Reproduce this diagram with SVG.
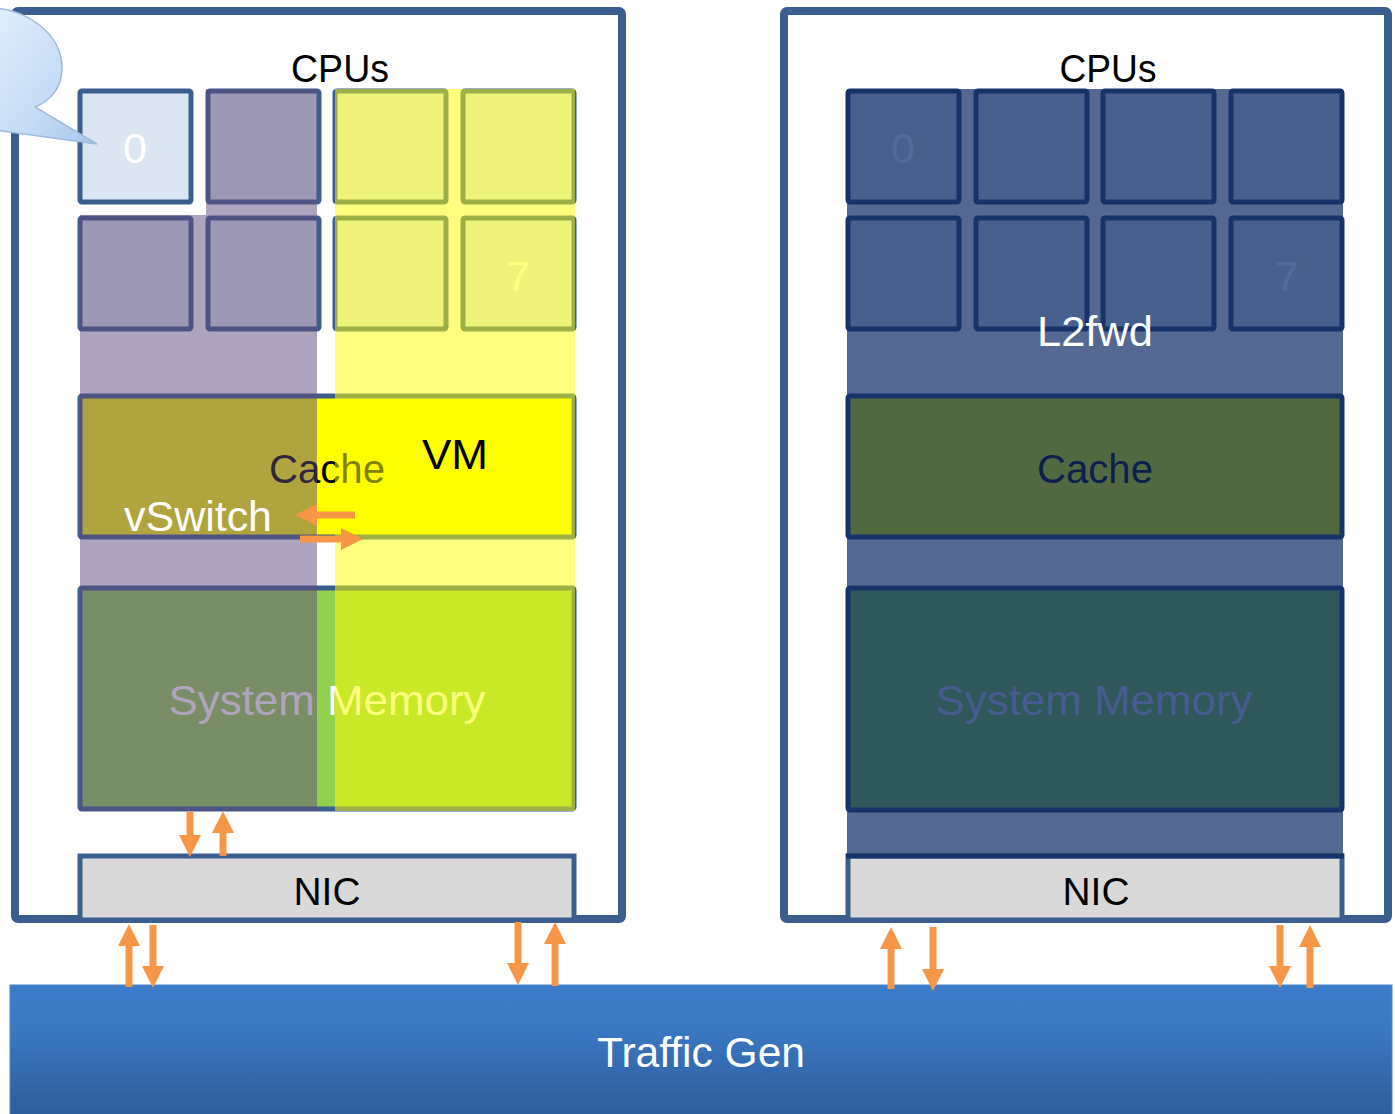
<svg xmlns="http://www.w3.org/2000/svg" width="1395" height="1114" viewBox="0 0 1395 1114">
<style>
text{font-family:"Liberation Sans",Arial,sans-serif;font-size:43px;text-anchor:middle}
.cpus{font-size:38px}
.cache{font-size:40px}
.nic{font-size:39px}
.box{fill:#ffffff;stroke:#3a5f8e;stroke-width:8}
.cpuL{fill:#dce6f2;stroke:#3a5f8e;stroke-width:5}
.cpuR{fill:#48608e;stroke:#16336a;stroke-width:5}
.arrow{stroke:#f79646;stroke-width:7;fill:none}
</style>
<defs>
<marker id="ah" viewBox="0 0 22 22" refX="0" refY="11" markerWidth="22" markerHeight="22" markerUnits="userSpaceOnUse" orient="auto">
<path d="M0,0 L22,11 L0,22 Z" fill="#f79646"/>
</marker>
<linearGradient id="tg" x1="0" y1="0" x2="0" y2="1">
<stop offset="0" stop-color="#3b7bc8"/>
<stop offset="0.3" stop-color="#3b79c4"/>
<stop offset="1" stop-color="#2d5b98"/>
</linearGradient>
<linearGradient id="bub" x1="0" y1="0" x2="1" y2="1">
<stop offset="0" stop-color="#e2eefc"/>
<stop offset="0.6" stop-color="#c5dbf6"/>
<stop offset="1" stop-color="#a6c4ec"/>
</linearGradient>
</defs>

<g id="server-left">
<rect class="box" x="15" y="11" width="607" height="908" rx="3"/>
<text class="cpus" x="340" y="82" textLength="98" lengthAdjust="spacingAndGlyphs">CPUs</text>
<g id="cpus-left">
<rect class="cpuL" x="80" y="91" width="111" height="111" rx="2"/>
<rect class="cpuL" x="208" y="91" width="111" height="111" rx="2"/>
<rect class="cpuL" x="335" y="91" width="111" height="111" rx="2"/>
<rect class="cpuL" x="463" y="91" width="111" height="111" rx="2"/>
<rect class="cpuL" x="80" y="218" width="111" height="111" rx="2"/>
<rect class="cpuL" x="208" y="218" width="111" height="111" rx="2"/>
<rect class="cpuL" x="335" y="218" width="111" height="111" rx="2"/>
<rect class="cpuL" x="463" y="218" width="111" height="111" rx="2"/>
<text x="135" y="163" fill="#ffffff">0</text>
<text x="518" y="291" fill="#ffffff">7</text>
</g>
<g id="cache-left">
<rect x="80" y="396" width="494" height="141" fill="#ffff00" stroke="#3a5f8e" stroke-width="5" rx="2"/>
<text class="cache" x="327" y="483" fill="#000000" textLength="116" lengthAdjust="spacingAndGlyphs">Cache</text>
</g>
<g id="memory-left">
<rect x="80" y="588" width="494" height="221" fill="#92d050" stroke="#3a5f8e" stroke-width="5" rx="2"/>
<text x="327" y="715" fill="#ffffff" textLength="317" lengthAdjust="spacingAndGlyphs">System Memory</text>
</g>
<path id="vswitch-overlay" d="M206,89 L317,89 L317,811 L80,811 L80,215 L206,215 Z" fill="#604a7b" fill-opacity="0.5"/>
<rect id="vm-overlay" x="335" y="89" width="240" height="722" fill="#ffff00" fill-opacity="0.5"/>
<text x="455" y="469" fill="#000000" textLength="66" lengthAdjust="spacingAndGlyphs">VM</text>
<text x="198" y="531" fill="#ffffff" textLength="148" lengthAdjust="spacingAndGlyphs">vSwitch</text>
<g id="nic-left">
<rect x="80" y="856" width="494" height="64" fill="#d9d9d9" stroke="#3a5f8e" stroke-width="5"/>
<text class="nic" x="327" y="905" fill="#000000" textLength="67" lengthAdjust="spacingAndGlyphs">NIC</text>
</g>
</g>

<g id="server-right">
<rect class="box" x="784" y="11" width="604" height="908" rx="3"/>
<text class="cpus" x="1108" y="82" textLength="97" lengthAdjust="spacingAndGlyphs">CPUs</text>
<rect x="847" y="89" width="496" height="766" fill="#546891"/>
<g id="cpus-right">
<rect class="cpuR" x="848" y="91" width="111" height="111" rx="2"/>
<rect class="cpuR" x="976" y="91" width="111" height="111" rx="2"/>
<rect class="cpuR" x="1103" y="91" width="111" height="111" rx="2"/>
<rect class="cpuR" x="1231" y="91" width="111" height="111" rx="2"/>
<rect class="cpuR" x="848" y="218" width="111" height="111" rx="2"/>
<rect class="cpuR" x="976" y="218" width="111" height="111" rx="2"/>
<rect class="cpuR" x="1103" y="218" width="111" height="111" rx="2"/>
<rect class="cpuR" x="1231" y="218" width="111" height="111" rx="2"/>
<text x="903" y="163" fill="#536b9b">0</text>
<text x="1287" y="291" fill="#536b9b">7</text>
</g>
<text x="1095" y="346" fill="#ffffff" textLength="116" lengthAdjust="spacingAndGlyphs">L2fwd</text>
<g id="cache-right">
<rect x="848" y="396" width="494" height="141" fill="#526840" stroke="#16336a" stroke-width="5" rx="2"/>
<text class="cache" x="1095" y="483" fill="#0c1f4f" textLength="116" lengthAdjust="spacingAndGlyphs">Cache</text>
</g>
<g id="memory-right">
<rect x="848" y="588" width="494" height="222" fill="#2f585a" stroke="#16336a" stroke-width="5" rx="2"/>
<text x="1094" y="715" fill="#485c94" textLength="317" lengthAdjust="spacingAndGlyphs">System Memory</text>
</g>
<g id="nic-right">
<rect x="848" y="856" width="494" height="64" fill="#d9d9d9" stroke="#3a5f8e" stroke-width="5"/>
<line x1="846" y1="856" x2="1344" y2="856" stroke="#16336a" stroke-width="5"/>
<text class="nic" x="1096" y="905" fill="#000000" textLength="67" lengthAdjust="spacingAndGlyphs">NIC</text>
</g>
</g>

<g id="bubble">
<path d="M-5,8 C25,10 62,32 62,68 C62,90 48,102 35,107 L97,144 L-5,130 Z" fill="url(#bub)" stroke="#9fb9dc" stroke-width="1.5"/>
</g>

<g id="traffic-gen">
<rect x="10" y="985" width="1382" height="135" fill="url(#tg)" stroke="#4a86cc" stroke-width="1"/>
<text x="701" y="1067" fill="#ffffff" textLength="208" lengthAdjust="spacingAndGlyphs">Traffic Gen</text>
</g>

<g id="connectors">
<line class="arrow" x1="355" y1="515" x2="317" y2="515" marker-end="url(#ah)"/>
<line class="arrow" x1="300" y1="539" x2="341" y2="539" marker-end="url(#ah)"/>
<line class="arrow" x1="190" y1="812" x2="190" y2="835" marker-end="url(#ah)"/>
<line class="arrow" x1="223" y1="856" x2="223" y2="833" marker-end="url(#ah)"/>
<line class="arrow" x1="129" y1="987" x2="129" y2="946" marker-end="url(#ah)"/>
<line class="arrow" x1="153" y1="925" x2="153" y2="966" marker-end="url(#ah)"/>
<line class="arrow" x1="518" y1="922" x2="518" y2="963" marker-end="url(#ah)"/>
<line class="arrow" x1="555" y1="986" x2="555" y2="944" marker-end="url(#ah)"/>
<line class="arrow" x1="891" y1="989" x2="891" y2="949" marker-end="url(#ah)"/>
<line class="arrow" x1="933" y1="927" x2="933" y2="969" marker-end="url(#ah)"/>
<line class="arrow" x1="1280" y1="925" x2="1280" y2="966" marker-end="url(#ah)"/>
<line class="arrow" x1="1310" y1="988" x2="1310" y2="947" marker-end="url(#ah)"/>
</g>
</svg>
